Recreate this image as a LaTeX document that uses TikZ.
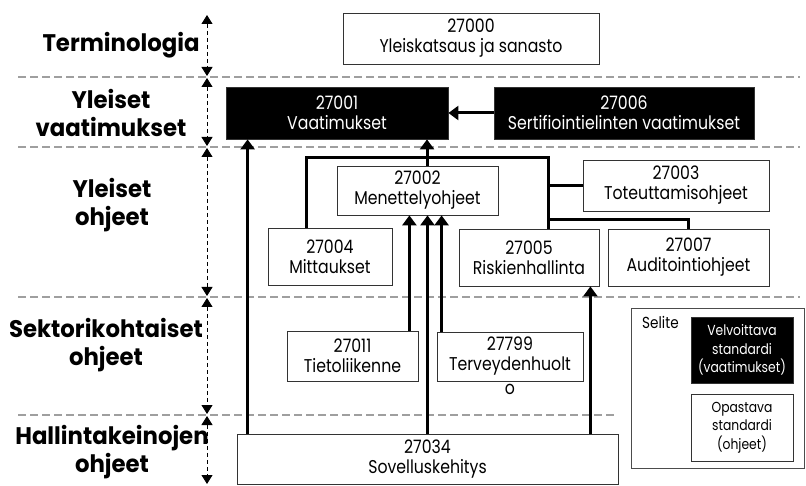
\documentclass[tikz,border=0pt]{standalone}
\usepackage{fontspec}
\setmainfont{Poppins}[FakeStretch=0.85]
\newfontfamily\lblfont{Poppins}[FakeStretch=0.95]
\usepackage{tikz}
\usetikzlibrary{arrows.meta, positioning, calc}

\begin{document}
\begin{tikzpicture}[
  x=1pt, y=-1pt,
  box/.style={rectangle, draw=black!80, line width=0.8pt, fill=#1,
              font=\fontsize{18.5}{20}\selectfont, align=center, inner sep=0pt},
  box/.default=white,
  req/.style={box=black, text=white},
  conn/.style={line width=3pt, black},
  arr/.style={conn, -{Triangle[length=10pt, width=14pt]}},
  sep/.style={gray!75, line width=1.2pt, dash pattern=on 8pt off 4pt},
  band/.style={black, line width=0.9pt, dash pattern=on 4pt off 3pt,
               {Triangle[length=9pt, width=11pt]}-{Triangle[length=9pt, width=11pt]}},
  lbl/.style={font=\lblfont\fontsize{24}{28}\selectfont\bfseries, align=center}
]
\useasboundingbox (0,0) rectangle (806,486);

% Layer separators
\foreach \y in {77, 147, 297}
  \draw[sep] (18,\y) -- (800,\y);
\draw[sep] (18,415) -- (615,415);

% Layer extents
\foreach \a/\b in {15/76, 78/146, 148/296, 298/414, 416/484}
  \draw[band] (207,\a) -- (207,\b);

% Layer names
\node[lbl] (lTerm) at (121,45)  {Terminologia};
\node[lbl] (lReq)  at (111,113) {Yleiset\\vaatimukset};
\node[lbl] (lGen)  at (112,205) {Yleiset\\ohjeet};
\node[lbl] (lSec)  at (106,345) {Sektorikohtaiset\\ohjeet};
\node[lbl] (lMgmt) at (112,452) {Hallintakeinojen\\ohjeet};

% Standards
\node[box, minimum width=256pt, minimum height=51pt] (t27000) at (471,38.5) {27000\\Yleiskatsaus ja sanasto};
\node[req, minimum width=222pt, minimum height=52pt] (t27001) at (337,113) {27001\\Vaatimukset};
\node[req, minimum width=260pt, minimum height=52pt] (t27006) at (624,113) {27006\\Sertifiointielinten vaatimukset};
\node[box, minimum width=161pt, minimum height=49pt] (t27002) at (417.5,190.5) {27002\\Menettelyohjeet};
\node[box, minimum width=186pt, minimum height=51pt] (t27003) at (676,185.5) {27003\\Toteuttamisohjeet};
\node[box, minimum width=124pt, minimum height=57pt] (t27004) at (330,256.5) {27004\\Mittaukset};
\node[box, minimum width=140pt, minimum height=57pt] (t27005) at (529,257.5) {27005\\Riskienhallinta};
\node[box, minimum width=161pt, minimum height=57pt] (t27007) at (688.5,257.5) {27007\\Auditointiohjeet};
\node[box, minimum width=131pt, minimum height=50pt] (t27011) at (352.5,356) {27011\\Tietoliikenne};
\node[box, minimum width=146pt, minimum height=49pt] (t27799) at (510,356.5) {27799\\Terveydenhuolt};
\node[font=\fontsize{18.5}{20}\selectfont, inner sep=0pt, below=3pt of t27799] (t27799o) {o};
\node[box, minimum width=381pt, minimum height=50pt] (t27034) at (427.5,459) {27034\\Sovelluskehitys};

% Legend
\node[draw=black!70, line width=0.8pt, minimum width=173pt, minimum height=160pt] (legend) at (717.5,388) {};
\node[font=\fontsize{16}{19}\selectfont, anchor=north west, inner sep=0pt] (lgTitle) at (642,316) {Selite};
\node[req, font=\fontsize{14.5}{18.5}\selectfont, minimum width=102pt, minimum height=66pt] (lgReq) at (742,350) {Velvoittava\\standardi\\(vaatimukset)};
\node[box, font=\fontsize{14.5}{18.5}\selectfont, minimum width=102pt, minimum height=67pt] (lgGuide) at (742,427.5) {Opastava\\standardi\\(ohjeet)};

% Guideline group
\coordinate (brL) at (306,158);
\coordinate (brM) at (427,158);
\coordinate (brR) at (548,158);
\coordinate (br7) at (548,220);
\draw[conn] (t27004.north -| brL) -- (brL) -- (brR) -- (t27005.north -| brR);
\draw[conn] (brR |- t27003.west) -- (t27003.west);
\draw[conn] (br7) -| (t27007.north);
\draw[conn] (t27002.north -| brM) -- (brM);

% Arrows
\draw[arr] (brM) -- (t27001.south -| brM);
\draw[arr] (t27006.west) -- (t27001.east);
\draw[arr] ([xshift=-9pt]t27011.north east) -- ([xshift=-9pt]t27011.north east |- t27002.south);
\draw[arr] (t27034.north) -- (t27034.north |- t27002.south);
\draw[arr] ([xshift=5pt]t27799.north west) -- ([xshift=5pt]t27799.north west |- t27002.south);
\draw[arr] ([xshift=11pt]t27034.north west) -- ([xshift=11pt]t27034.north west |- t27001.south);
\draw[arr] ([xshift=-28pt]t27034.north east) -- ([xshift=-28pt]t27034.north east |- t27005.south);

\end{tikzpicture}
\end{document}
